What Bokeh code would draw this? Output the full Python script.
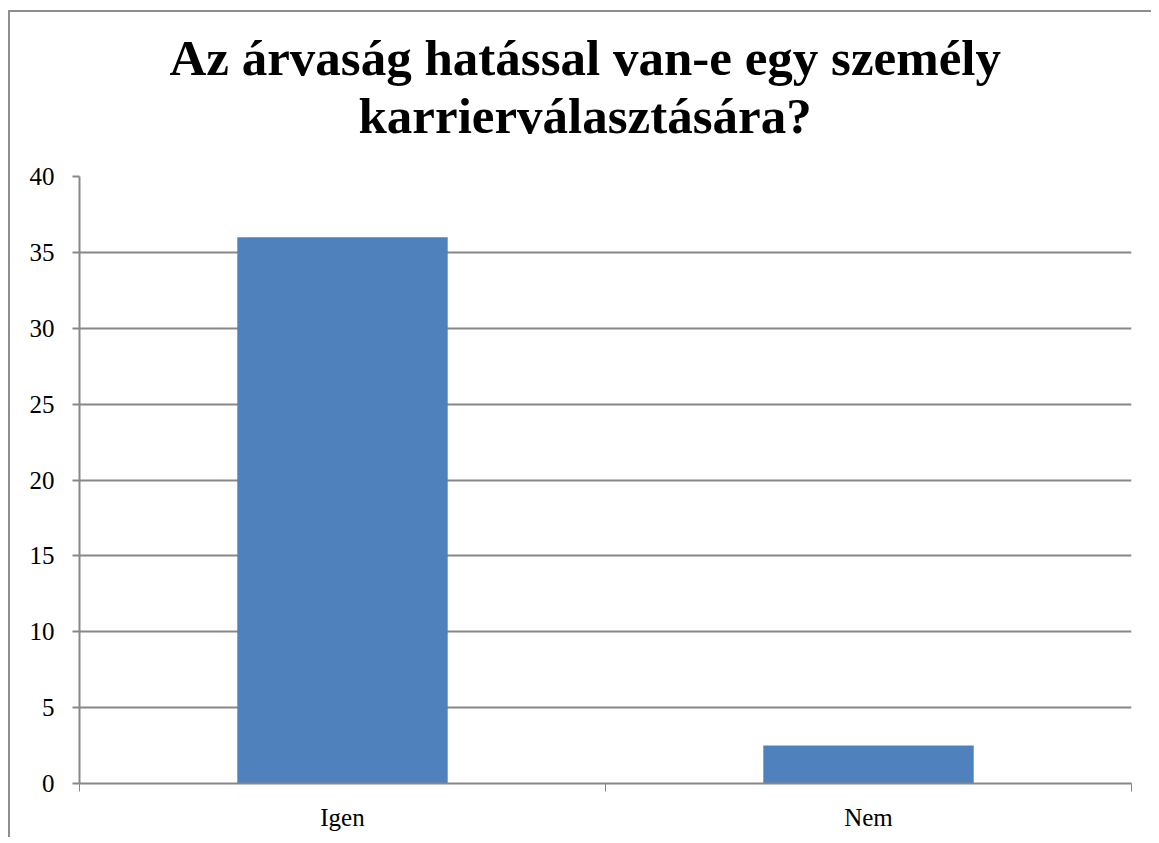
from bokeh.plotting import figure
from bokeh.models import ColumnDataSource, FixedTicker, Title
from bokeh.embed import file_html
from bokeh.resources import INLINE

categories = ["Igen", "Nem"]
values = [36, 2.5]
y_ticks = [0, 5, 10, 15, 20, 25, 30, 35, 40]
title_lines = ["Az árvaság hatással van-e egy személy", "karrierválasztására?"]

GRID = "#878787"
BAR = "#4F81BD"
FONT = "Liberation Serif"
Y_MAX = 40

xs = [i + 0.5 for i in range(len(categories))]
src = ColumnDataSource(dict(x=xs, top=values, cat=categories))

p = figure(width=1143, height=827, output_backend="svg", toolbar_location=None,
           x_range=(0, len(categories)), y_range=(0, Y_MAX),
           min_border_left=69, min_border_right=22, min_border_top=164, min_border_bottom=56)
p.styles = {"border-left": "2px solid #8e8e8e", "border-top": "2px solid #8e8e8e",
            "margin-top": "10px", "margin-left": "8px"}
p.outline_line_color = None
p.background_fill_color = "white"
p.border_fill_color = "white"

p.vbar(x="x", top="top", width=0.4, bottom=0, source=src, fill_color=BAR, line_color=None)

# x axis
p.xaxis.ticker = FixedTicker(ticks=xs, minor_ticks=[0, 1, 2])
p.xaxis.major_label_overrides = {x: c for x, c in zip(xs, categories)}
p.xaxis.major_tick_out = 0
p.xaxis.major_tick_in = 0
p.xaxis.minor_tick_out = 8
p.xaxis.minor_tick_in = 0
p.xaxis.minor_tick_line_color = GRID
p.xaxis.axis_line_color = GRID
p.xaxis.axis_line_width = 2
p.xaxis.major_label_text_font = FONT
p.xaxis.major_label_text_font_size = "25px"
p.xaxis.major_label_text_color = "black"
p.xaxis.major_label_standoff = 12
p.xgrid.visible = False

# y axis
p.yaxis.ticker = FixedTicker(ticks=y_ticks)
p.yaxis.minor_tick_line_color = None
p.yaxis.major_tick_out = 7
p.yaxis.major_tick_in = 0
p.yaxis.major_tick_line_color = GRID
p.yaxis.major_tick_line_width = 2
p.yaxis.axis_line_color = GRID
p.yaxis.axis_line_width = 2
p.yaxis.major_label_text_font = FONT
p.yaxis.major_label_text_font_size = "25px"
p.yaxis.major_label_text_color = "black"
p.yaxis.major_label_standoff = 18
p.ygrid.grid_line_color = GRID
p.ygrid.grid_line_width = 2

# title: two lines, centred on the whole chart; a blank spacer sits nearest the frame
p.add_layout(Title(text=" ", text_font=FONT, text_font_size="28px", standoff=0), "above")
for line, off in zip(reversed(title_lines), [279, 90]):
    p.add_layout(Title(text=line, align="left", offset=off, standoff=0,
                       text_font=FONT, text_font_style="bold", text_font_size="51px",
                       text_color="black"), "above")

open("out.html", "w").write(file_html(p, INLINE))
